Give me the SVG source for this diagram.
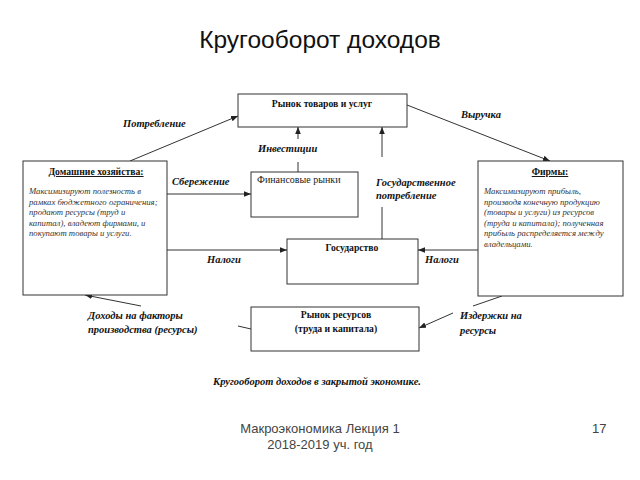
<svg xmlns="http://www.w3.org/2000/svg" width="640" height="480" viewBox="0 0 640 480">
<defs>
<marker id="ah" viewBox="0 0 10 10" refX="10" refY="5" markerWidth="7" markerHeight="7" markerUnits="userSpaceOnUse" orient="auto"><path d="M0,1 L10,5 L0,9 z" fill="#222"/></marker>
<style>
.box{fill:#fff;stroke:#333;stroke-width:1}
.ln{stroke:#333;stroke-width:1;fill:none}
.ar{stroke:#333;stroke-width:1;fill:none;marker-end:url(#ah)}
.lbl{font-family:"Liberation Serif",serif;font-style:italic;font-weight:bold;font-size:10.5px;fill:#111}
.bt{font-family:"Liberation Serif",serif;font-weight:bold;font-size:9.7px;fill:#111}
.nt{font-family:"Liberation Serif",serif;font-size:10px;fill:#222}
.it{font-family:"Liberation Serif",serif;font-style:italic;font-size:8.7px;fill:#333}
.ft{font-family:"Liberation Sans",Arial,sans-serif;font-size:13px;fill:#444}
</style>
</defs>
<rect width="640" height="480" fill="#fff"/>
<text x="320" y="48" text-anchor="middle" font-family="'Liberation Sans',Arial,sans-serif" font-size="24.5" fill="#111">Кругооборот доходов</text>

<g id="connectors">
<line class="ar" x1="130" y1="161" x2="238" y2="116"/>
<line class="ar" x1="407" y1="105" x2="550" y2="161"/>
<line class="ln" x1="298" y1="172" x2="298" y2="162"/>
<line class="ar" x1="298" y1="139" x2="298" y2="127"/>
<line class="ln" x1="382" y1="239" x2="382" y2="207"/>
<line class="ar" x1="382" y1="157" x2="382" y2="127"/>
<line class="ar" x1="167" y1="194" x2="251" y2="194"/>
<line class="ar" x1="167" y1="250" x2="287" y2="250"/>
<line class="ar" x1="478" y1="250" x2="418" y2="250"/>
<line class="ln" x1="251" y1="329" x2="238" y2="326"/>
<line class="ar" x1="141" y1="306" x2="85" y2="295"/>
<line class="ln" x1="502" y1="296" x2="473" y2="306"/>
<line class="ar" x1="453" y1="313" x2="419" y2="328"/>
</g>

<g id="labels">
<text class="lbl" x="123" y="127">Потребление</text>
<text class="lbl" x="461" y="118">Выручка</text>
<text class="lbl" x="258" y="152">Инвестиции</text>
<text class="lbl" x="172" y="185">Сбережение</text>
<text class="lbl" x="376" y="186">Государственное</text>
<text class="lbl" x="376" y="199">потребление</text>
<text class="lbl" x="207" y="263">Налоги</text>
<text class="lbl" x="425" y="263">Налоги</text>
<text class="lbl" x="88" y="319">Доходы на факторы</text>
<text class="lbl" x="88" y="333">производства (ресурсы)</text>
<text class="lbl" x="460" y="319">Издержки на</text>
<text class="lbl" x="460" y="334">ресурсы</text>
<text class="lbl" x="317" y="385" text-anchor="middle">Кругооборот доходов в закрытой экономике.</text>
</g>

<g id="goods-market">
<rect class="box" x="238" y="94" width="169" height="33"/>
<text class="bt" x="322" y="107" text-anchor="middle">Рынок товаров и услуг</text>
</g>

<g id="financial-markets">
<rect class="box" x="251" y="172" width="107" height="45"/>
<text class="nt" x="257" y="183">Финансовые рынки</text>
</g>

<g id="government">
<rect class="box" x="287" y="239" width="131" height="45"/>
<text class="bt" x="352" y="251" text-anchor="middle" font-size="10.2">Государство</text>
</g>

<g id="resource-market">
<rect class="box" x="251" y="307" width="168" height="44"/>
<text class="bt" x="336" y="318" text-anchor="middle" font-size="10.5">Рынок ресурсов</text>
<text class="bt" x="336" y="332" text-anchor="middle" font-size="10.5">(труда и капитала)</text>
</g>

<g id="households">
<rect class="box" x="23" y="161" width="144" height="134"/>
<text class="bt" x="96" y="175" text-anchor="middle" text-decoration="underline">Домашние хозяйства:</text>
<text class="it" x="29" y="194">Максимизируют полезность в</text>
<text class="it" x="29" y="204.5">рамках бюджетного ограничения;</text>
<text class="it" x="29" y="215">продают ресурсы (труд и</text>
<text class="it" x="29" y="225.5">капитал), владеют фирмами, и</text>
<text class="it" x="29" y="236">покупают товары и услуги.</text>
</g>

<g id="firms">
<rect class="box" x="478" y="161" width="145" height="135"/>
<text class="bt" x="550" y="175" text-anchor="middle" text-decoration="underline">Фирмы:</text>
<text class="it" x="484" y="194">Максимизируют прибыль,</text>
<text class="it" x="484" y="204.5">производя конечную продукцию</text>
<text class="it" x="484" y="215">(товары и услуги) из ресурсов</text>
<text class="it" x="484" y="225.5">(труда и капитала); полученная</text>
<text class="it" x="484" y="236">прибыль распределяется между</text>
<text class="it" x="484" y="246.5">владельцами.</text>
</g>

<g id="footer">
<text class="ft" x="320" y="433" text-anchor="middle">Макроэкономика Лекция 1</text>
<text class="ft" x="320" y="449" text-anchor="middle">2018-2019 уч. год</text>
<text class="ft" x="592" y="433">17</text>
</g>
</svg>
